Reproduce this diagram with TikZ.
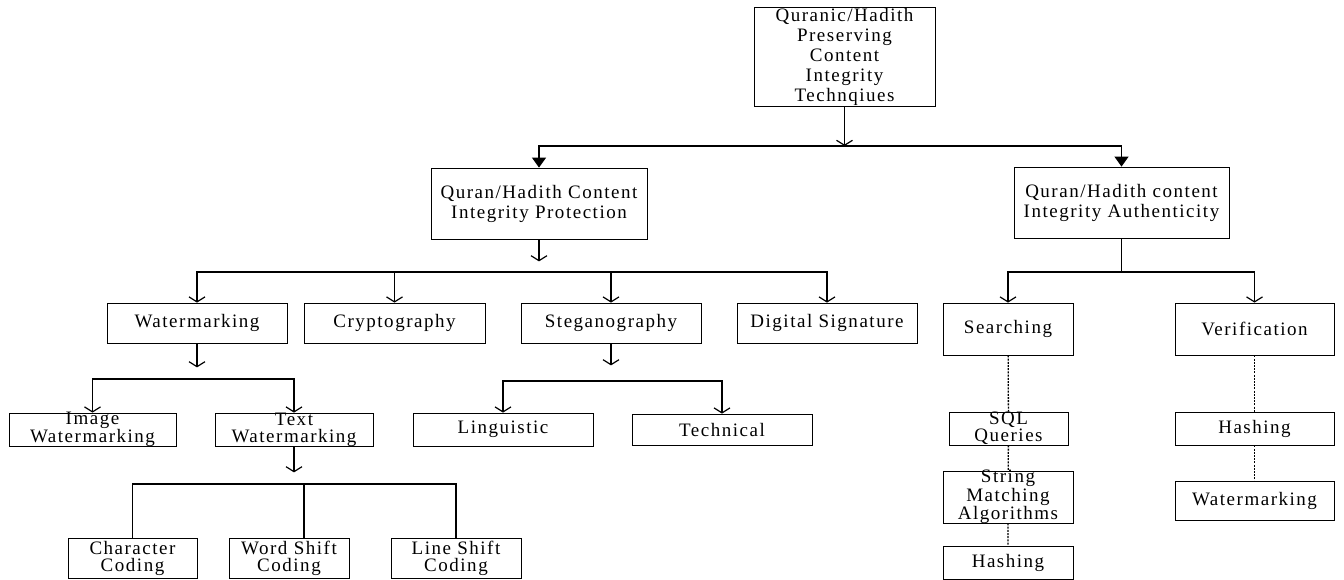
\documentclass[tikz,border=0pt]{standalone}
\usepackage{fontspec}
\setmainfont{Liberation Serif}[LetterSpace=8]
\usetikzlibrary{arrows.meta}

\begin{document}
\begin{tikzpicture}[x=1pt,y=-1pt,
		box/.style={draw,line width=0.8pt,align=center,inner sep=0pt,font=\fontsize{19}{20}\selectfont},
		sz/.style 2 args={minimum width=#1pt,minimum height=#2pt},
		tight/.style={font=\fontsize{19}{17}\selectfont,inner ysep=-3pt},
		link/.style={line width=1.2pt},
		barb/.style={link,-{Straight Barb[length=5pt,width=16pt]}},
		solidtip/.style={link,-{Triangle[length=10pt,width=14pt]}},
		dotlink/.style={line width=1.3pt,dash pattern=on 2pt off 1.2pt}]
		\useasboundingbox (0,0) rectangle (1344,580);
		\node[box,sz={181}{99},inner ysep=-1pt] (top) at (844.5,56.5) {Quranic/Hadith\\Preserving\\Content\\Integrity\\Technqiues};
		\node[box,sz={216}{71}] (prot) at (539,203.5) {Quran/Hadith Content\\Integrity Protection};
		\node[box,sz={215}{71}] (auth) at (1121.5,202.5) {Quran/Hadith content\\Integrity Authenticity};
		\node[box,sz={180}{40}] (wm) at (197,323) {Watermarking};
		\node[box,sz={181}{40}] (cry) at (394.5,323) {Cryptography};
		\node[box,sz={180}{40}] (steg) at (611,323) {Steganography};
		\node[box,sz={180}{40}] (dsig) at (827,323) {Digital Signature};
		\node[box,sz={130}{52}] (srch) at (1008,329) {Searching};
		\node[box,sz={159}{52}] (verif) at (1254.5,329) {Verification};
		\node[box,tight,sz={167}{33}] (imgwm) at (92.5,429.5) {Image\\Watermarking};
		\node[box,tight,sz={158}{33}] (txtwm) at (294,429.5) {Text\\Watermarking};
		\node[box,tight,sz={129}{40}] (chr) at (132.5,558) {Character\\Coding};
		\node[box,tight,sz={120}{40}] (wsc) at (289,558) {Word Shift\\Coding};
		\node[box,tight,sz={130}{40}] (lsc) at (456,558) {Line Shift\\Coding};
		\node[box,sz={180}{33}] (ling) at (503,429.5) {Linguistic};
		\node[box,sz={180}{31}] (tech) at (722,429.5) {Technical};
		\node[box,tight,sz={119}{33}] (sql) at (1008.5,428.5) {SQL\\Queries};
		\node[box,tight,sz={130}{52}] (strm) at (1008,497) {String\\Matching\\Algorithms};
		\node[box,sz={130}{33}] (hsh1) at (1008,562.5) {Hashing};
		\node[box,sz={159}{33}] (hsh2) at (1254.5,428.5) {Hashing};
		\node[box,sz={159}{39}] (wm2) at (1254.5,500.5) {Watermarking};
		\coordinate (b1) at (844.5,146);
		\coordinate (b2) at (539,272);
		\coordinate (b3) at (1121.5,272);
		\coordinate (b4) at (197,379);
		\coordinate (b5) at (294,484);
		\coordinate (b6) at (611,381);
		\draw[barb] (top) -- (b1);
		\draw[solidtip] (b1) -| (prot);
		\draw[solidtip] (b1) -| (auth);
		\draw[barb] (prot.south) -- ++(0,22);
		\draw[barb] (b2) -| (wm);
		\draw[barb] (b2) -| (cry);
		\draw[barb] (b2) -| (steg);
		\draw[barb] (b2) -| (dsig);
		\draw[link] (auth) -- (b3);
		\draw[barb] (b3) -| (srch);
		\draw[barb] (b3) -| (verif);
		\draw[barb] (wm.south) -- ++(0,24);
		\draw[barb] (b4) -| (imgwm);
		\draw[barb] (b4) -| (txtwm);
		\draw[barb] (txtwm.south) -- ++(0,26);
		\draw[link] (b5) -| (chr);
		\draw[link] (b5) -| (lsc);
		\draw[link] (b5 -| 304,0) -- (wsc.north -| 304,0);
		\draw[barb] (steg.south) -- ++(0,22);
		\draw[barb] (b6) -| (ling);
		\draw[barb] (b6) -| (tech);
		\draw[dotlink] (srch) -- (sql) -- (strm) -- (hsh1);
		\draw[dotlink] (verif) -- (hsh2) -- (wm2);
\end{tikzpicture}
\end{document}
